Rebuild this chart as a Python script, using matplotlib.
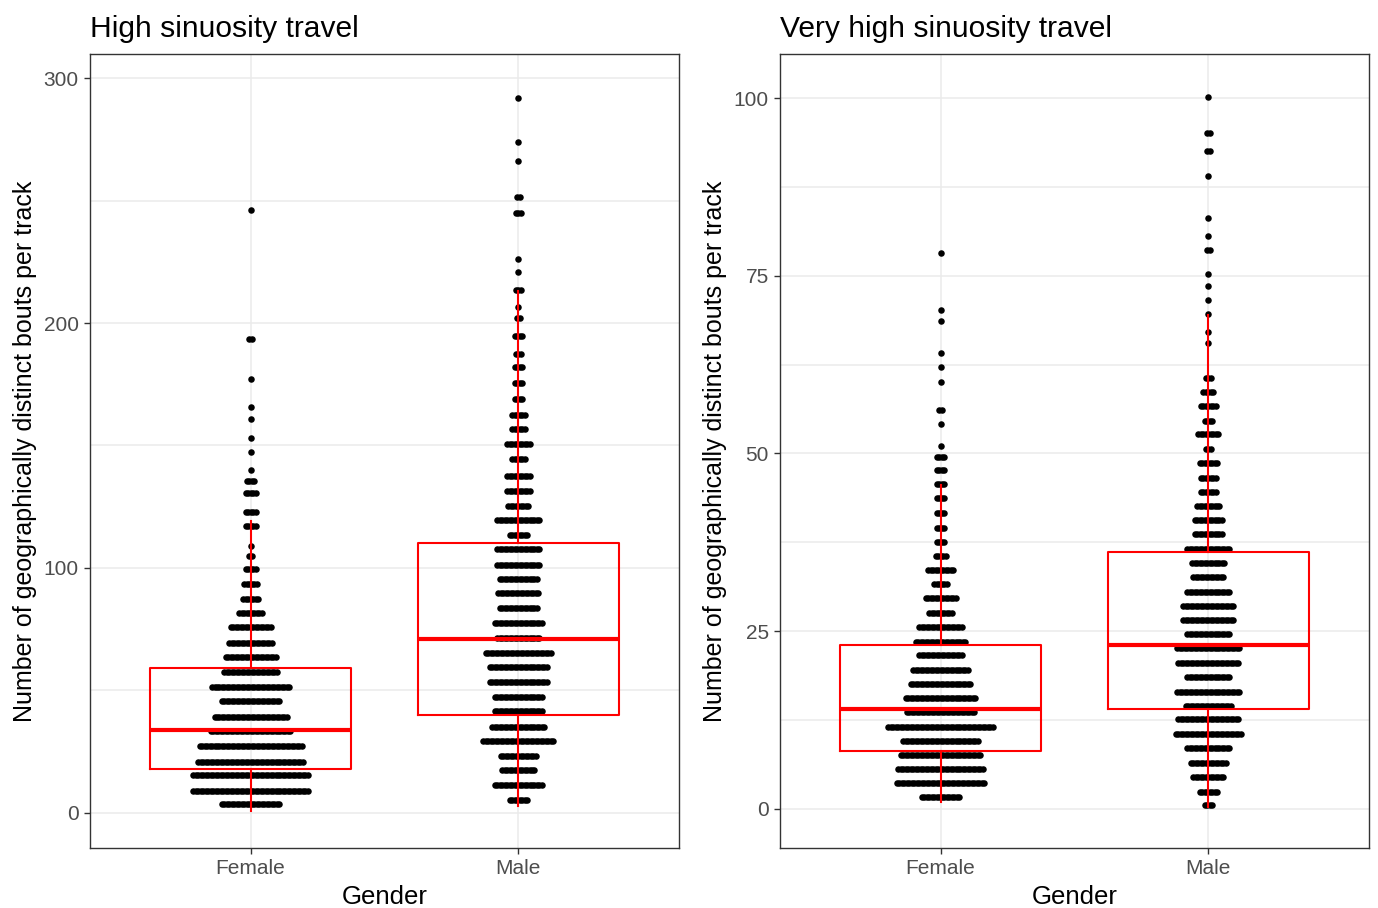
import numpy as np
import matplotlib.pyplot as plt

plt.rcParams['font.family'] = ['Liberation Sans', 'DejaVu Sans']

# dot rows: y of each row and number of stacked dots in it
hs_female_y = [246, 193.5, 177, 165.7, 161, 153, 147.3, 140, 135.5, 130.6, 123, 117, 109,
               104.9, 99.6, 93.5, 87.3, 81.6, 75.9, 69.4, 63.7, 57.6, 51.4, 45.7, 39,
               33.5, 27.3, 21, 15.5, 9, 3.7]
hs_female_n = [1, 2, 1, 1, 1, 1, 1, 1, 4, 5, 5, 5, 1,
               2, 5, 6, 7, 10, 17, 18, 21, 22, 32, 24, 30,
               33, 42, 43, 47, 47, 24]
hs_male_y = [292, 274, 266, 251.4, 245, 226, 221, 213.5, 206.5, 202, 194.7, 187.3, 182,
             175.5, 169, 162.4, 156.7, 150.6, 144.5, 137.6, 131.4, 125.3, 119.6, 113.5,
             107.8, 101.2, 95.5, 89.8, 83.7, 77.6, 71.4, 65.3, 59.6, 53.5, 47.3, 41.6,
             35.1, 29.4, 23.3, 17.6, 11.4, 5.3]
hs_male_n = [1, 1, 1, 2, 3, 1, 1, 3, 1, 2, 4, 3, 4,
             4, 4, 6, 6, 10, 6, 10, 10, 9, 18, 8,
             18, 18, 16, 17, 16, 20, 18, 27, 24, 24, 20, 20,
             22, 29, 15, 14, 20, 8]
vhs_female_y = [78.2, 70.2, 68.6, 64.1, 62.2, 60.1, 56.1, 54.1, 51.1, 49.5, 47.7, 45.7,
                43.7, 41.6, 39.5, 37.6, 35.6, 33.6, 31.6, 29.7, 27.6, 25.6, 23.5, 21.7,
                19.5, 17.6, 15.6, 13.6, 11.5, 9.6, 7.6, 5.6, 3.7, 1.7]
vhs_female_n = [1, 1, 1, 1, 1, 1, 2, 1, 1, 4, 4, 4,
                4, 4, 4, 4, 5, 11, 6, 13, 10, 18, 21, 18,
                23, 25, 29, 28, 43, 31, 33, 35, 36, 16]
vhs_male_y = [100.1, 95.1, 92.5, 89, 83.1, 80.6, 78.6, 75.2, 73.6, 71.6, 69.6, 67.1, 65.5,
              60.6, 58.6, 56.7, 54.6, 52.7, 50.6, 48.7, 46.6, 44.6, 42.6, 40.6, 38.7,
              36.6, 34.6, 32.6, 30.5, 28.6, 26.6, 24.6, 22.6, 20.5, 18.6, 16.5, 14.5,
              12.7, 10.5, 8.6, 6.5, 4.5, 2.4, 0.6]
vhs_male_n = [1, 2, 2, 1, 1, 1, 2, 1, 1, 1, 1, 1, 1,
              3, 5, 7, 4, 9, 3, 8, 7, 7, 10, 12, 12,
              18, 14, 13, 18, 21, 21, 18, 26, 25, 18, 26, 19,
              25, 27, 18, 15, 13, 8, 4]

# boxplot summaries
hs_boxes = [dict(q1=18, med=34, q3=59, whislo=1, whishi=119),
            dict(q1=40, med=71, q3=110, whislo=3, whishi=213)]
vhs_boxes = [dict(q1=8.2, med=14.1, q3=23.1, whislo=1, whishi=45.6),
             dict(q1=14.1, med=23.1, q3=36.1, whislo=0.3, whishi=69.5)]

genders = ['Female', 'Male']
STEP = 0.0093  # horizontal spacing between stacked dots


def panel(ax, title, groups, boxes, ylim, ticks, minor):
    for i, (ys, ns) in enumerate(groups):
        xs, yy = [], []
        for y, n in zip(ys, ns):
            off = (np.arange(n) - (n - 1) / 2) * STEP
            xs.extend(i + 1 + off)
            yy.extend([y] * n)
        ax.scatter(xs, yy, s=22, c='black', linewidths=0, zorder=2)
    red = '#FF0000'
    ax.bxp(boxes, positions=[1, 2], widths=0.75, showcaps=False, showfliers=False,
           boxprops=dict(color=red, lw=1.5), whiskerprops=dict(color=red, lw=1.5),
           medianprops=dict(color=red, lw=3), zorder=3)
    ax.set_xlim(0.4, 2.6)
    ax.set_ylim(*ylim)
    ax.set_xticks([1, 2], genders)
    ax.set_yticks(ticks)
    ax.set_yticks(minor, minor=True)
    ax.grid(which='both', color='#EBEBEB', lw=1.1)
    ax.set_axisbelow(True)
    ax.tick_params(which='major', length=4, width=1, color='#333333',
                   labelcolor='#4D4D4D', labelsize=15, pad=4)
    ax.tick_params(which='minor', length=0)
    for sp in ax.spines.values():
        sp.set_color('#333333')
        sp.set_linewidth(1)
    ax.set_xlabel('Gender', fontsize=18.5, labelpad=5)
    ax.set_ylabel('Number of geographically distinct bouts per track', fontsize=18, labelpad=5)
    ax.set_title(title, loc='left', fontsize=21.6, pad=12)


fig = plt.figure(figsize=(13.78, 9.08), dpi=100)
ax1 = fig.add_axes([0.0653, 0.0661, 0.4274, 0.8744])
ax2 = fig.add_axes([0.566, 0.0661, 0.4274, 0.8744])

panel(ax1, 'High sinuosity travel',
      [(hs_female_y, hs_female_n), (hs_male_y, hs_male_n)], hs_boxes,
      (-14.3, 309.8), [0, 100, 200, 300], [50, 150, 250])
panel(ax2, 'Very high sinuosity travel',
      [(vhs_female_y, vhs_female_n), (vhs_male_y, vhs_male_n)], vhs_boxes,
      (-5.5, 106.2), [0, 25, 50, 75, 100], [12.5, 37.5, 62.5, 87.5])

fig.savefig('out.png', dpi=100)
